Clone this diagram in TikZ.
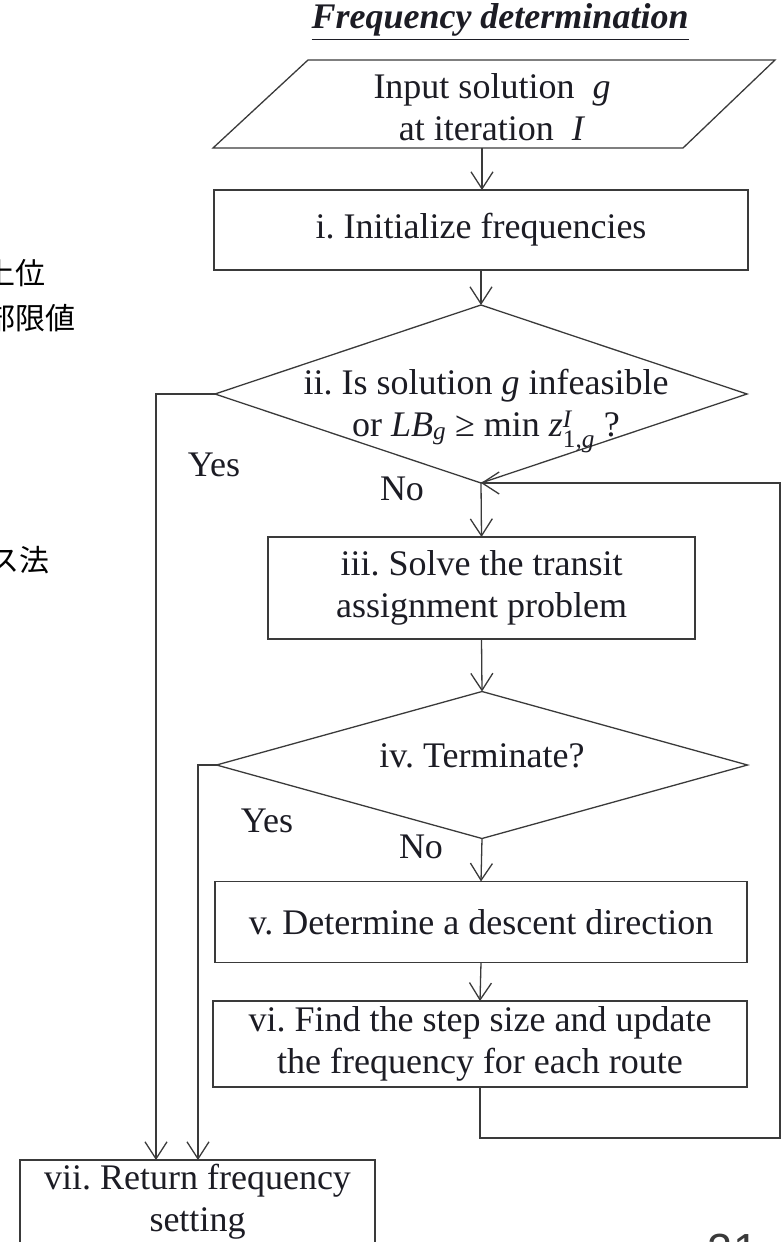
\documentclass[tikz,border=0pt]{standalone}
\usepackage{amsmath}
\usepackage{fontspec}
\setmainfont{Liberation Serif}
\newfontfamily\cjk{Noto Sans CJK JP}
\newfontfamily\pagesans{Liberation Sans}
\usetikzlibrary{arrows.meta,shapes.geometric}
\definecolor{lc}{HTML}{3A3A3A}
\definecolor{tc}{HTML}{1C1C24}
\frenchspacing
\begin{document}
\begin{tikzpicture}[x=1pt,y=-1pt,
  ln/.style={draw=lc, line width=1.3pt},
  arr/.style={ln, -{Straight Barb[length=17pt,width=22pt,line width=1.3pt]}},
  txt/.style={font=\fontsize{36}{42}\selectfont, text=tc, inner sep=0pt, align=center},
  boxs/.style={ln, rectangle, inner sep=0pt, outer sep=0pt, txt},
  dia/.style={ln, diamond, inner sep=0pt, outer sep=0pt},
  jp/.style={font=\cjk\fontsize{30}{36}\selectfont, text=black, inner sep=0pt, anchor=east}
]
\useasboundingbox (0,0) rectangle (784,1242);

% Japanese fragments at the left edge
\node[jp] (jp1) at (46,273) {上位};
\node[jp] (jp2) at (76,318) {部限値};
\node[jp] (jp3) at (50,560) {ス法};

% title
\node[txt, font=\fontsize{36}{42}\selectfont\bfseries\itshape] (title) at (500,22) {\underline{Frequency determination}};

% input parallelogram
\draw[ln] (308,60) -- (775,60) -- (683,148) -- (213,148) -- cycle;
\node[txt] (inp) at (492,107) {Input solution\enspace\textit{g}\\at iteration\enspace\textit{I}};
\coordinate (inpb) at (482,148);

% boxes and decisions
\node[boxs, minimum width=534pt, minimum height=80pt] (b1) at (481,230) {i. Initialize frequencies};
\node[dia, minimum width=532pt, minimum height=178pt] (d2) at (481,394) {};
\node[txt] (t2) at (486,411) {ii. Is solution \textit{g} infeasible\\or \textit{LB}$_{\text{\textit{g}}}$ ≥ min \textit{z}$^{\text{\textit{I}}}_{\text{1,\textit{g}}}$ ?};
\node[boxs, minimum width=427pt, minimum height=102pt] (b3) at (481.5,588) {\raisebox{-5pt}{\begin{tabular}{@{}c@{}}iii. Solve the transit\\assignment problem\end{tabular}}};
\node[dia, minimum width=531pt, minimum height=147pt] (d4) at (482,765) {};
\node[txt] (t4) at (482,756) {iv. Terminate?};
\node[boxs, minimum width=532pt, minimum height=81pt] (b5) at (481,922) {v. Determine a descent direction};
\node[boxs, minimum width=534pt, minimum height=86pt] (b6) at (480,1044) {\raisebox{-4pt}{\begin{tabular}{@{}c@{}}vi. Find the step size and update\\the frequency for each route\end{tabular}}};
\node[boxs, minimum width=355pt, minimum height=84pt] (b7) at (197.5,1202) {vii. Return frequency\\setting};

% main flow
\draw[arr] (inpb) -- (b1.north -| inpb);
\draw[arr] (b1.south) -- (d2.north);
\draw[arr] (d2.south) -- (b3.north);
\draw[arr] (b3.south) -- (d4.north);
\draw[arr] (d4.south) -- (b5.north);
\draw[arr] (b5.south) -- (b6.north);

% feedback loop
\coordinate (fb) at (780,1138);
\draw[arr] (b6.south) |- (fb) |- (d2.south);

% Yes branches
\coordinate (j1) at (156,1160);
\coordinate (j2) at (198,1160);
\draw[arr] (d2.west) -| (j1);
\draw[arr] (d4.west) -| (j2);

% branch labels
\node[txt] (yes1) at (214,465) {Yes};
\node[txt] (no1) at (402,489) {No};
\node[txt] (yes2) at (267,821) {Yes};
\node[txt] (no2) at (421,847) {No};

% page number fragment
\node[font=\pagesans\fontsize{45}{54}\selectfont, text=lc, inner sep=0pt, anchor=north] (pg) at (733,1234) {21};
\end{tikzpicture}
\end{document}
